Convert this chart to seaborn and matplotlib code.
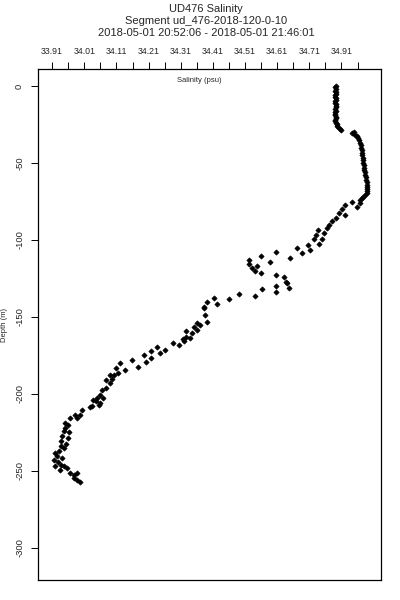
import matplotlib
matplotlib.use("Agg")
import numpy as np
import pandas as pd
import matplotlib.pyplot as plt
import seaborn as sns

# ── data ────────────────────────────────────────────────────────────
salinity = [
    34.792, 34.791, 34.793, 34.790, 34.792, 34.794, 34.791, 34.790, 34.792, 34.793,
    34.791, 34.790, 34.792, 34.794, 34.793, 34.791, 34.792, 34.790, 34.789, 34.791,
    34.793, 34.792, 34.790, 34.791, 34.793, 34.795, 34.797, 34.800, 34.805, 34.809,
    34.848, 34.844, 34.852, 34.858, 34.863, 34.866, 34.869, 34.870, 34.872, 34.873,
    34.874, 34.875, 34.876, 34.877, 34.878, 34.879, 34.880, 34.881, 34.882, 34.883,
    34.885, 34.887, 34.889, 34.890, 34.891, 34.890, 34.889, 34.888, 34.884, 34.878,
    34.873, 34.869,
    34.843, 34.869, 34.857, 34.822, 34.812, 34.801, 34.822, 34.794, 34.781, 34.770,
    34.765, 34.757, 34.750, 34.739, 34.736, 34.732, 34.724, 34.705, 34.713, 34.688,
    34.672, 34.649, 34.605, 34.589, 34.560, 34.522, 34.522, 34.532, 34.542, 34.548,
    34.560, 34.605, 34.630, 34.636, 34.641, 34.648, 34.607, 34.607, 34.563, 34.542,
    34.490, 34.459, 34.423, 34.413, 34.392, 34.382, 34.382, 34.387, 34.392, 34.371,
    34.361, 34.350, 34.361, 34.325, 34.325, 34.345, 34.338, 34.317, 34.321, 34.304,
    34.286, 34.262, 34.237, 34.247, 34.218, 34.216, 34.197, 34.203, 34.176, 34.159,
    34.138, 34.122, 34.110, 34.114, 34.102, 34.091, 34.097, 34.089, 34.079, 34.076,
    34.066, 34.060, 34.050, 34.045, 34.038, 34.034, 34.027, 34.069, 34.060, 34.055,
    34.003, 33.998, 33.982, 33.988, 33.967, 33.951, 33.951, 33.946, 33.941, 33.939,
    33.936, 33.931, 33.926, 33.927, 33.936, 33.946, 33.957, 33.967, 33.977, 33.988,
    33.977, 33.988, 33.996,
    33.958, 33.961, 33.958, 33.954, 33.948, 33.920, 33.917, 33.920, 33.933, 33.942,
]
depth = [
    0.0, -1.0, -2.0, -3.0, -4.0, -5.0, -6.0, -7.0, -8.0, -9.0,
    -10.0, -11.0, -12.0, -13.0, -14.0, -15.0, -16.0, -17.0, -18.0, -19.0,
    -20.0, -21.0, -22.0, -23.0, -24.0, -25.0, -26.0, -27.0, -28.0, -28.6,
    -29.9, -30.6, -31.6, -32.8, -33.8, -35.4, -37.0, -38.6, -40.2, -41.8,
    -43.4, -45.0, -46.6, -48.2, -49.8, -51.4, -53.0, -54.6, -56.2, -57.8,
    -59.4, -61.0, -62.6, -64.2, -65.4, -66.8, -68.2, -69.5, -70.8, -72.0,
    -73.0, -74.0,
    -75.1, -75.8, -78.4, -77.3, -80.1, -82.3, -83.8, -85.9, -87.5, -90.3,
    -92.4, -95.6, -99.5, -102.6, -93.5, -96.8, -99.5, -103.2, -106.5, -108.6,
    -105.4, -111.9, -108.0, -114.5, -110.4, -113.0, -115.8, -118.4, -120.1, -117.3,
    -121.6, -122.7, -124.2, -127.1, -128.1, -131.0, -129.7, -134.0, -132.0, -136.8,
    -135.1, -138.5, -141.8, -137.5, -140.1, -143.3, -144.4, -148.7, -153.1, -155.2,
    -154.1, -156.3, -158.4, -159.5, -162.8, -160.6, -163.8, -164.5, -166.0, -168.2,
    -166.7, -171.4, -169.9, -173.6, -171.9, -176.8, -174.7, -179.4, -182.3, -177.9,
    -184.4, -180.1, -183.3, -186.6, -187.7, -187.7, -190.5, -193.1, -190.9, -196.3,
    -197.4, -200.6, -202.8, -205.0, -203.9, -208.2, -208.6, -202.8, -206.0, -207.1,
    -210.4, -213.6, -213.6, -215.8, -215.8, -219.0, -222.3, -224.5, -227.7, -231.0,
    -234.2, -237.5, -240.7, -244.0, -246.1, -247.2, -248.3, -251.5, -252.6, -251.5,
    -254.7, -256.3, -257.0,
    -220.1, -224.7, -228.6, -232.5, -235.1, -238.3, -242.9, -246.8, -249.4, -241.6,
]

x_major = [33.91, 34.01, 34.11, 34.21, 34.31, 34.41, 34.51, 34.61, 34.71, 34.81]
x_minor = [33.96, 34.06, 34.16, 34.26, 34.36, 34.46, 34.56, 34.66, 34.76, 34.86]
x_labels = ["33.91", "34.01", "34.11", "34.21", "34.31", "34.41",
            "34.51", "34.61", "34.71", "34.91"]
y_ticks = [0, -50, -100, -150, -200, -250, -300]
y_labels = ["0", "-50", "-100", "-150", "-200", "-250", "-300"]

title_lines = ["UD476 Salinity",
               "Segment ud_476-2018-120-0-10",
               "2018-05-01 20:52:06 - 2018-05-01 21:46:01"]

df = pd.DataFrame({"salinity": salinity, "depth": depth})

sns.set_style("ticks")
plt.rcParams["font.family"] = ["Liberation Sans", "DejaVu Sans"]

fig = plt.figure(figsize=(4, 6), dpi=100)
ax = fig.add_axes([0.095, 0.0333, 0.8575, 0.8517])

sns.scatterplot(data=df, x="salinity", y="depth", ax=ax, color="black",
                marker="D", s=7, edgecolor="black", linewidth=0.5)

ax.set_xlim(33.866, 34.933)
ax.set_ylim(-321, 11)

# salinity axis along the top
ax.xaxis.tick_top()
ax.set_xticks(x_major)
ax.set_xticklabels(x_labels, fontsize=6.3)
ax.set_xticks(x_minor, minor=True)
ax.tick_params(axis="x", which="both", length=5, width=0.7, pad=4, color="black")
ax.set_xlabel("")
ax.text(0.47, 0.985, "Salinity (psu)", transform=ax.transAxes,
        ha="center", va="top", fontsize=5.5)

ax.set_yticks(y_ticks)
ax.set_yticklabels(y_labels, fontsize=6.8, rotation=90, va="center")
ax.tick_params(axis="y", length=5, width=0.7, pad=5, color="black")
ax.set_ylabel("Depth (m)", fontsize=5.5, labelpad=5)

for sp in ax.spines.values():
    sp.set_visible(True)
    sp.set_linewidth(0.9)
    sp.set_color("black")

fig.text(0.515, 0.994, "\n".join(title_lines), ha="center", va="top",
         fontsize=8, linespacing=1.3)

fig.savefig("out.png", dpi=100)
plt.close(fig)
